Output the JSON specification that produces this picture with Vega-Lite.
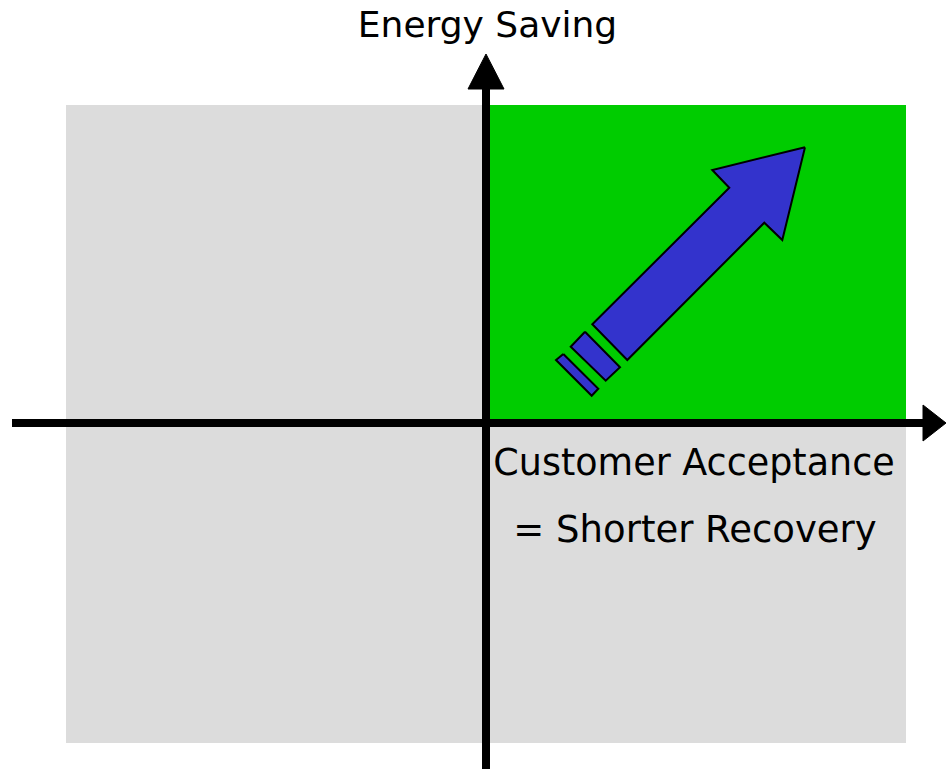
{
  "$schema": "https://vega.github.io/schema/vega-lite/v6.json",
  "width": 946,
  "height": 769,
  "padding": 0,
  "autosize": {"type": "none"},
  "background": "white",
  "config": {"view": {"stroke": null}},
  "datasets": {
    "regions": [
      {"name": "all", "x1": -420, "x2": 420, "y1": -320, "y2": 318, "c": "#dcdcdc"},
      {"name": "goal", "x1": 0, "x2": 420, "y1": 0, "y2": 318, "c": "#00cc00"}
    ],
    "axes": [
      {"name": "h", "x1": -474, "x2": 438, "y1": 0, "y2": 0},
      {"name": "v", "x1": 0, "x2": 0, "y1": -350, "y2": 335}
    ],
    "heads": [
      {"shape": "hx", "o": 0, "x": 437, "y": 18},
      {"shape": "hx", "o": 1, "x": 460, "y": 0},
      {"shape": "hx", "o": 2, "x": 437, "y": -18},
      {"shape": "hx", "o": 3, "x": 437, "y": 18},
      {"shape": "vy", "o": 0, "x": -18, "y": 334},
      {"shape": "vy", "o": 1, "x": 0, "y": 369},
      {"shape": "vy", "o": 2, "x": 18, "y": 334},
      {"shape": "vy", "o": 3, "x": -18, "y": 334}
    ],
    "arrow": [
      {"shape": "big", "o": 0, "x": 319, "y": 275.7},
      {"shape": "big", "o": 1, "x": 296.3, "y": 183},
      {"shape": "big", "o": 2, "x": 278.3, "y": 200.3},
      {"shape": "big", "o": 3, "x": 141.3, "y": 63},
      {"shape": "big", "o": 4, "x": 106.3, "y": 98.7},
      {"shape": "big", "o": 5, "x": 243.3, "y": 235.3},
      {"shape": "big", "o": 6, "x": 226.3, "y": 253},
      {"shape": "big", "o": 7, "x": 319, "y": 275.7},
      {"shape": "s1", "o": 0, "x": 99, "y": 91.3},
      {"shape": "s1", "o": 1, "x": 134, "y": 55.7},
      {"shape": "s1", "o": 2, "x": 119.7, "y": 42.3},
      {"shape": "s1", "o": 3, "x": 84.7, "y": 76.3},
      {"shape": "s1", "o": 4, "x": 99, "y": 91.3},
      {"shape": "s2", "o": 0, "x": 77.3, "y": 69},
      {"shape": "s2", "o": 1, "x": 112.3, "y": 34.3},
      {"shape": "s2", "o": 2, "x": 105.7, "y": 27.3},
      {"shape": "s2", "o": 3, "x": 70, "y": 63},
      {"shape": "s2", "o": 4, "x": 77.3, "y": 69}
    ],
    "labels": [
      {"t": "Energy Saving", "x": 1.5, "y": 386, "s": 36},
      {"t": "Customer Acceptance", "x": 208, "y": -52, "s": 36.5},
      {"t": "= Shorter Recovery", "x": 209, "y": -118.5, "s": 37}
    ]
  },
  "layer": [
    {
      "data": {"name": "regions"},
      "mark": {"type": "rect"},
      "encoding": {
        "x": {"field": "x1", "type": "quantitative", "scale": {"domain": [-486, 460], "nice": false, "zero": false}, "axis": null},
        "x2": {"field": "x2"},
        "y": {"field": "y1", "type": "quantitative", "scale": {"domain": [-346, 423], "nice": false, "zero": false}, "axis": null},
        "y2": {"field": "y2"},
        "color": {"field": "c", "type": "nominal", "scale": null, "legend": null}
      }
    },
    {
      "data": {"name": "axes"},
      "mark": {"type": "rule", "strokeWidth": 8, "color": "black", "strokeCap": "butt"},
      "encoding": {
        "x": {"field": "x1", "type": "quantitative"},
        "x2": {"field": "x2"},
        "y": {"field": "y1", "type": "quantitative"},
        "y2": {"field": "y2"}
      }
    },
    {
      "data": {"name": "heads"},
      "mark": {"type": "line", "fill": "black", "stroke": "black", "strokeWidth": 1, "interpolate": "linear"},
      "encoding": {
        "x": {"field": "x", "type": "quantitative"},
        "y": {"field": "y", "type": "quantitative"},
        "detail": {"field": "shape"},
        "order": {"field": "o", "type": "quantitative"}
      }
    },
    {
      "data": {"name": "arrow"},
      "mark": {"type": "line", "fill": "#3333cc", "stroke": "black", "strokeWidth": 2, "strokeJoin": "miter", "interpolate": "linear"},
      "encoding": {
        "x": {"field": "x", "type": "quantitative"},
        "y": {"field": "y", "type": "quantitative"},
        "detail": {"field": "shape"},
        "order": {"field": "o", "type": "quantitative"}
      }
    },
    {
      "data": {"name": "labels"},
      "mark": {"type": "text", "align": "center", "baseline": "alphabetic", "font": "DejaVu Sans", "color": "black"},
      "encoding": {
        "x": {"field": "x", "type": "quantitative"},
        "y": {"field": "y", "type": "quantitative"},
        "text": {"field": "t"},
        "size": {"field": "s", "type": "quantitative", "scale": null}
      }
    }
  ]
}
